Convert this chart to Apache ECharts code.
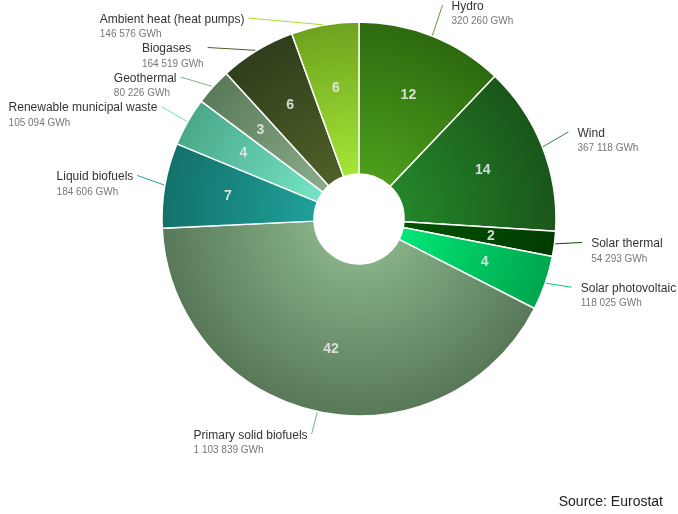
<!DOCTYPE html>
<html><head><meta charset="utf-8">
<script src="https://cdn.jsdelivr.net/npm/echarts@6/dist/echarts.min.js"></script>
<style>html,body{margin:0;padding:0;background:#fff}#c{width:678px;height:514px}</style>
</head><body><div id="c"></div>
<script>
const categories = ['Hydro','Wind','Solar thermal','Solar photovoltaic','Primary solid biofuels','Liquid biofuels','Renewable municipal waste','Geothermal','Biogases','Ambient heat (heat pumps)'];
const valuesGWh = [320260,367118,54293,118025,1103839,184606,105094,80226,164519,146576];
const innerColors = ['#4c9e1c','#24862a','#005200','#00e676','#86b086','#1fa098','#74e4c4','#8aac8a','#4e6028','#a4e636'];
const outerColors = ['#2d6a0f','#1a561a','#003c00','#00a64e','#587858','#13716b','#4aa88a','#5a7a5a','#2f3e1c','#6ea21e'];
const lineColors  = ['#5e9a30','#2f8a34','#0a4a0a','#00d070','#80b080','#20a0a0','#70e0c0','#80b090','#4a5a2a','#a0e030'];
const sourceText = 'Source: Eurostat';

const CX = 359, CY = 219, R0 = 45, R1 = 197;
const LABEL_R = 225, LABEL_DY = -5, LABEL_GAP = 29.5, TEXT_GAP_RIGHT = 9, TEXT_GAP_LEFT = 4;
const TOP_LEFT = 18, TOP_RIGHT = 0, BOTTOM = 470;
function fmt(v){ return String(v).replace(/\B(?=(\d{3})+(?!\d))/g, ' '); }
const data = categories.map((n, i) => ({
  name: n, value: valuesGWh[i],
  itemStyle: { color: { type: 'radial', x: CX, y: CY, r: R1, global: true,
    colorStops: [{offset: R0 / R1, color: innerColors[i]}, {offset: 1, color: outerColors[i]}] } },
  labelLine: { lineStyle: { color: lineColors[i] } }
}));
const chart = echarts.init(document.getElementById('c'));
chart.setOption({
  animation: false,
  title: { text: sourceText, right: 10, bottom: 0, textStyle: { fontSize: 14, fontWeight: 'normal', color: '#222', fontFamily: 'Liberation Sans' } },
  series: [{
    type: 'pie', center: [CX, CY], radius: [R0, R1], startAngle: 90, clockwise: true,
    avoidLabelOverlap: false,
    itemStyle: { borderColor: '#fff', borderWidth: 1.5 },
    label: { show: true, position: 'outside', fontFamily: 'Liberation Sans', distanceToLabelLine: 7, overflow: 'none',
      padding: [7, 0, -7, 0],
      formatter: p => '{n|' + p.name + '}\n{v|' + fmt(p.value) + ' GWh}',
      rich: { n: { fontSize: 12, color: '#333', align: 'left', lineHeight: 16, fontFamily: 'Liberation Sans' },
              v: { fontSize: 10, color: '#777', align: 'left', lineHeight: 14, fontFamily: 'Liberation Sans' } } },
    labelLine: { show: true, length: 28, length2: 0, lineStyle: { width: 1 } },
    data: data
  }, {
    type: 'pie', center: [CX, CY], radius: [63, R1], startAngle: 90, clockwise: true, silent: true,
    itemStyle: { color: 'transparent', borderWidth: 0 },
    label: { show: true, position: 'inside', fontFamily: 'Liberation Sans', fontSize: 14, fontWeight: 'bold', color: 'rgba(232,232,232,0.9)',
      formatter: p => String(Math.round(p.percent)) },
    labelLine: { show: false },
    data: categories.map((n, i) => ({ name: n, value: valuesGWh[i] }))
  }]
});

// Label placement: take each slice's angle from the library's pie layout,
// put the label on a circle round the pie and spread labels of one side apart.
let table = null;
try {
  const sd = chart.getModel().getSeriesByIndex(0).getData();
  table = [];
  for (let i = 0; i < sd.count(); i++) {
    const L = sd.getItemLayout(i);
    const mid = (L.startAngle + L.endAngle) / 2;
    const ux = Math.cos(mid), uy = Math.sin(mid);
    const lcy = L.cy + LABEL_DY;
    table.push({ i, left: ux < 0, ax: L.cx + L.r * ux, ay: L.cy + L.r * uy,
                 ny: lcy + LABEL_R * uy, cx: L.cx, cy: lcy });
  }
  [true, false].forEach(side => {
    const list = table.filter(t => t.left === side).sort((a, b) => a.ny - b.ny);
    let prev = -Infinity;
    const top = side ? TOP_LEFT : TOP_RIGHT;
    list.forEach(t => { t.y = Math.max(t.ny, prev + LABEL_GAP, top); prev = t.y; });
    let next = Infinity;
    for (let k = list.length - 1; k >= 0; k--) { const t = list[k]; t.y = Math.min(t.y, next - LABEL_GAP, BOTTOM); next = t.y; }
    list.forEach(t => {
      const dy = t.y - t.cy;
      const dx = Math.abs(dy) < LABEL_R ? Math.sqrt(LABEL_R * LABEL_R - dy * dy) : 0;
      t.x = t.cx + (side ? -dx : dx);
    });
  });
} catch (e) { table = null; }

if (table) {
  const byIndex = {};
  table.forEach(t => byIndex[t.i] = t);
  chart.setOption({ series: [{
    labelLayout: function (p) {
      if (p.seriesIndex !== 0) return {};
      const t = byIndex[p.dataIndex];
      if (!t) return {};
      return {
        x: t.x + (t.left ? -TEXT_GAP_LEFT : TEXT_GAP_RIGHT), y: t.y + 1.5,
        align: t.left ? 'right' : 'left', verticalAlign: 'middle',
        labelLinePoints: [[t.ax, t.ay], [t.x, t.y], [t.x, t.y]]
      };
    }
  }, {}] });
}
</script></body></html>
